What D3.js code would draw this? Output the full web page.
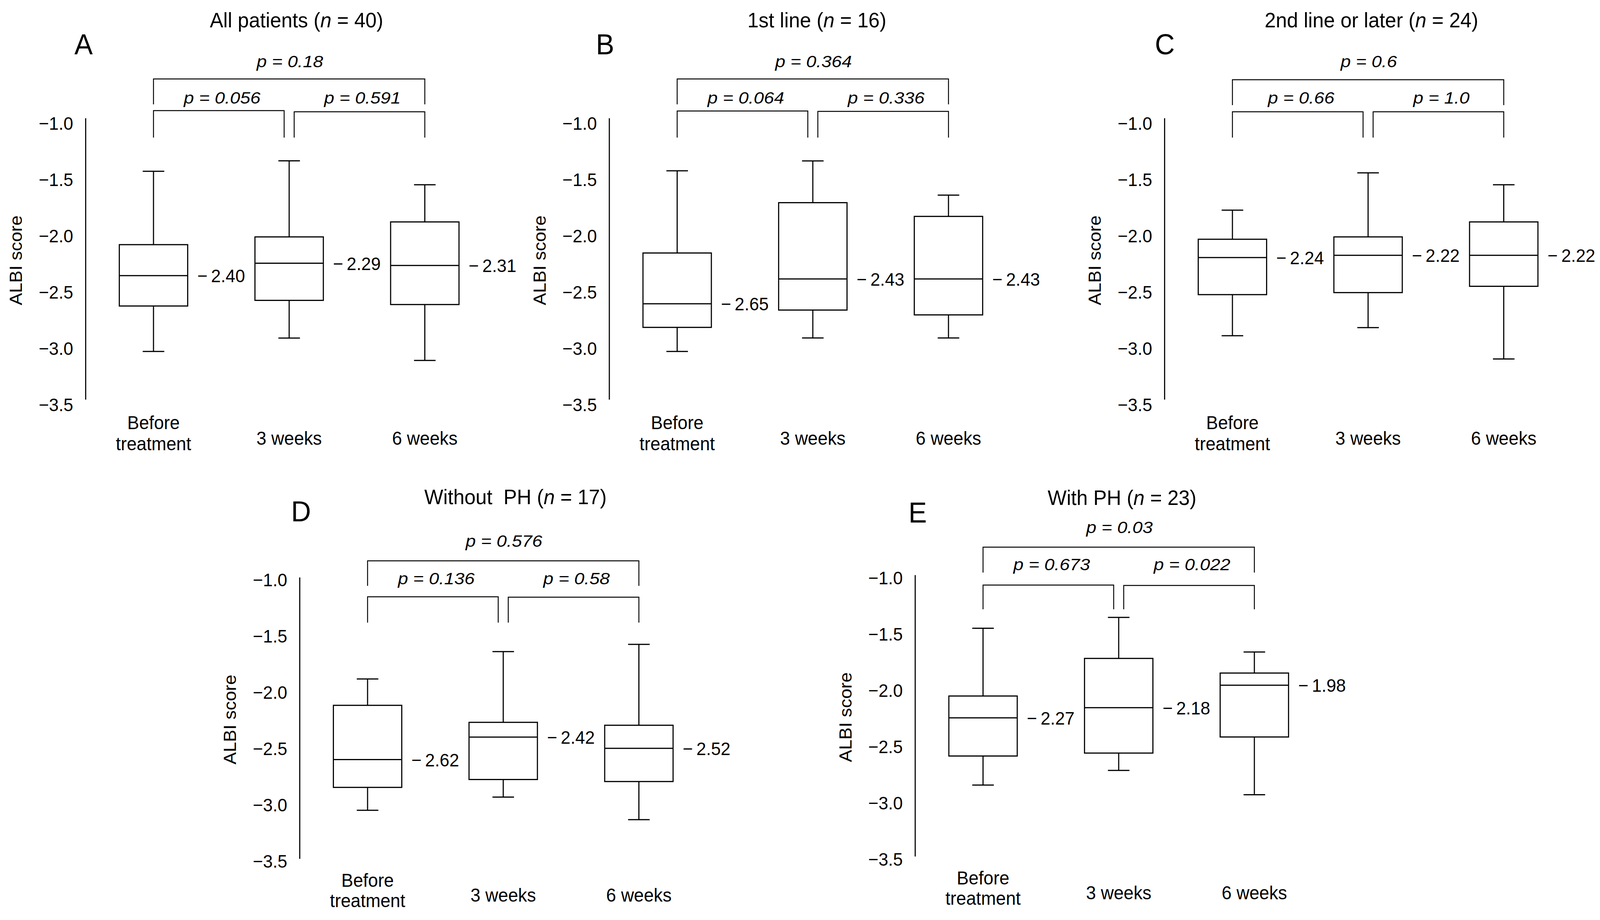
<!DOCTYPE html>
<html>
<head>
<meta charset="utf-8">
<script src="https://cdn.jsdelivr.net/npm/d3@7"></script>
<style>
  html, body { margin: 0; padding: 0; background: #fff; overflow: hidden; width: 100%; height: 100%; }
  svg { display: block; width: 100vw; height: 100vh; }
  text { font-family: "Liberation Sans", Arial, Helvetica, sans-serif; fill: #000; }
</style>
</head>
<body>
<svg id="chart" viewBox="0 0 4305 2354" preserveAspectRatio="none"></svg>
<script>
// ---------------- DATA ----------------
const categories = [["Before", "treatment"], ["3 weeks"], ["6 weeks"]];
const yTicks = [-1.0, -1.5, -2.0, -2.5, -3.0, -3.5];
const panelLetters = ["A", "B", "C", "D", "E"];
const panelNames = ["All patients", "1st line", "2nd line or later", "Without  PH", "With PH"];
const panelN = [40, 16, 24, 17, 23];

// box statistics per panel (rows: A..E, columns: Before, 3 weeks, 6 weeks)
const whiskerHigh = [
  [-1.473, -1.380, -1.593],
  [-1.469, -1.381, -1.685],
  [-1.819, -1.487, -1.593],
  [-1.904, -1.661, -1.596],
  [-1.474, -1.378, -1.685]
];
const upperQuartile = [
  [-2.125, -2.056, -1.923],
  [-2.199, -1.752, -1.874],
  [-2.077, -2.056, -1.923],
  [-2.138, -2.289, -2.315],
  [-2.076, -1.742, -1.872]
];
const medians = [
  [-2.40, -2.29, -2.31],
  [-2.65, -2.43, -2.43],
  [-2.24, -2.22, -2.22],
  [-2.62, -2.42, -2.52],
  [-2.27, -2.18, -1.98]
];
const lowerQuartile = [
  [-2.670, -2.620, -2.657],
  [-2.860, -2.706, -2.749],
  [-2.569, -2.551, -2.495],
  [-2.867, -2.797, -2.815],
  [-2.609, -2.583, -2.440]
];
const whiskerLow = [
  [-3.074, -2.955, -3.154],
  [-3.074, -2.954, -2.954],
  [-2.934, -2.862, -3.141],
  [-3.070, -2.953, -3.154],
  [-2.867, -2.737, -2.953]
];
// p values: Before vs 6 weeks, Before vs 3 weeks, 3 weeks vs 6 weeks
const pOverall = ["0.18", "0.364", "0.6", "0.576", "0.03"];
const pFirst   = ["0.056", "0.064", "0.66", "0.136", "0.673"];
const pSecond  = ["0.591", "0.336", "1.0", "0.58", "0.022"];

// ---------------- LAYOUT ----------------
const AXIS_LEN = 720;
const layout = [
  { axisX: 230,  axisTop: 302,  titleDx: 568, titleY: 70,   letterDx: -5,  letterY: 139,  tickOff: 12, cat: [76, 130, 116],
    br: { pTop: -130, top: -100, topLeg: -35, pLow: -37.5, lowL: -19, lowR: -16, lowLeg: 50 } },
  { axisX: 1639, axisTop: 302,  titleDx: 559, titleY: 70,   letterDx: -11, letterY: 139,  tickOff: 12, cat: [76, 130, 116],
    br: { pTop: -130, top: -100, topLeg: -35, pLow: -37.5, lowL: -18, lowR: -17, lowLeg: 50 } },
  { axisX: 3133, axisTop: 302,  titleDx: 557, titleY: 70,   letterDx: 1,   letterY: 139,  tickOff: 12, cat: [76, 130, 116],
    br: { pTop: -130, top: -98,  topLeg: -33, pLow: -37.5, lowL: -16, lowR: -16, lowLeg: 50 } },
  { axisX: 806,  axisTop: 1477, titleDx: 581, titleY: 1290, letterDx: 4,   letterY: 1334, tickOff: 5,  cat: [72, 124, 110],
    br: { pTop: -78,  top: -42,  topLeg: 22,  pLow: 18,    lowL: 50,  lowR: 51,  lowLeg: 116 } },
  { axisX: 2462, axisTop: 1471, titleDx: 557, titleY: 1292, letterDx: 7,   letterY: 1337, tickOff: 6,  cat: [72, 124, 110],
    br: { pTop: -107, top: -71,  topLeg: -6,  pLow: -12,   lowL: 26,  lowR: 27,  lowLeg: 88 } }
];
const BOX_W = 184, CAP_W = 58, FIRST_C = 183, STEP = 365;

const svg = d3.select("#chart");
const fmt2 = d3.format(".2f"), fmt1 = d3.format(".1f");
const minus = "\u2212";

panelLetters.forEach((letter, pi) => {
  const L = layout[pi];
  const g = svg.append("g").attr("class", "panel-" + letter);

  const y = d3.scaleLinear().domain([-1, -3.5]).range([L.axisTop, L.axisTop + AXIS_LEN]);
  const x = d3.scalePoint().domain([0, 1, 2]).range([L.axisX + FIRST_C, L.axisX + FIRST_C + 2 * STEP]);

  // y axis
  const axis = d3.axisLeft(y).tickValues(yTicks).tickSize(0).tickSizeOuter(0).tickPadding(33)
    .tickFormat(d => minus + fmt1(-d));
  const ag = g.append("g").attr("transform", `translate(${L.axisX},0)`).call(axis);
  ag.attr("font-family", null).attr("font-size", null);
  ag.select(".domain").attr("stroke", "#000").attr("stroke-width", 3);
  ag.selectAll(".tick text").attr("dy", null).attr("y", L.tickOff + 17)
    .style("font-size", "47px").attr("fill", "#000");

  // y title
  g.append("text")
    .attr("transform", `translate(${L.axisX - 171},${L.axisTop + AXIS_LEN / 2 + 4}) rotate(-90)`)
    .attr("text-anchor", "middle").style("font-size", "47px").text("ALBI score");

  // panel title
  const t = g.append("text").attr("x", L.axisX + L.titleDx).attr("y", L.titleY)
    .attr("text-anchor", "middle").style("font-size", "54px").style("white-space", "pre");
  t.append("tspan").text(panelNames[pi] + " (");
  t.append("tspan").style("font-style", "italic").text("n");
  t.append("tspan").text(" = " + panelN[pi] + ")");

  // panel letter
  g.append("text").attr("x", L.axisX + L.letterDx).attr("y", L.letterY)
    .attr("text-anchor", "middle").style("font-size", "74px").text(letter);

  // boxes
  const idx = [0, 1, 2];
  const boxes = g.selectAll("g.box").data(idx).join("g").attr("class", "box");
  boxes.append("line")
    .attr("x1", i => x(i)).attr("x2", i => x(i))
    .attr("y1", i => y(upperQuartile[pi][i])).attr("y2", i => y(whiskerHigh[pi][i]))
    .attr("stroke", "#000").attr("stroke-width", 3);
  boxes.append("line")
    .attr("x1", i => x(i)).attr("x2", i => x(i))
    .attr("y1", i => y(lowerQuartile[pi][i])).attr("y2", i => y(whiskerLow[pi][i]))
    .attr("stroke", "#000").attr("stroke-width", 3);
  boxes.append("line")
    .attr("x1", i => x(i) - CAP_W / 2).attr("x2", i => x(i) + CAP_W / 2)
    .attr("y1", i => y(whiskerHigh[pi][i])).attr("y2", i => y(whiskerHigh[pi][i]))
    .attr("stroke", "#000").attr("stroke-width", 3);
  boxes.append("line")
    .attr("x1", i => x(i) - CAP_W / 2).attr("x2", i => x(i) + CAP_W / 2)
    .attr("y1", i => y(whiskerLow[pi][i])).attr("y2", i => y(whiskerLow[pi][i]))
    .attr("stroke", "#000").attr("stroke-width", 3);
  boxes.append("rect")
    .attr("x", i => x(i) - BOX_W / 2).attr("width", BOX_W)
    .attr("y", i => y(upperQuartile[pi][i]))
    .attr("height", i => y(lowerQuartile[pi][i]) - y(upperQuartile[pi][i]))
    .attr("fill", "#fff").attr("stroke", "#000").attr("stroke-width", 3);
  boxes.append("line")
    .attr("x1", i => x(i) - BOX_W / 2).attr("x2", i => x(i) + BOX_W / 2)
    .attr("y1", i => y(medians[pi][i])).attr("y2", i => y(medians[pi][i]))
    .attr("stroke", "#000").attr("stroke-width", 3);
  boxes.append("text")
    .attr("x", i => x(i) + BOX_W / 2 + 26).attr("y", i => y(medians[pi][i]) + 17)
    .style("font-size", "47px").style("white-space", "pre")
    .text(i => minus + "\u2009" + fmt2(-medians[pi][i]));

  // category labels
  const axisBottom = L.axisTop + AXIS_LEN;
  idx.forEach(i => {
    const lines = categories[i];
    if (lines.length === 2) {
      g.append("text").attr("x", x(i)).attr("y", axisBottom + L.cat[0]).attr("text-anchor", "middle")
        .style("font-size", "48px").text(lines[0]);
      g.append("text").attr("x", x(i)).attr("y", axisBottom + L.cat[1]).attr("text-anchor", "middle")
        .style("font-size", "48px").text(lines[1]);
    } else {
      g.append("text").attr("x", x(i)).attr("y", axisBottom + L.cat[2]).attr("text-anchor", "middle")
        .style("font-size", "48px").text(lines[0]);
    }
  });

  // significance brackets
  const B = L.br, top = L.axisTop;
  const c0 = x(0), c1 = x(1), c2 = x(2), gap = 13.5;
  const bracket = (xa, xb, yh, yl) => `M${xa},${yl}V${yh}H${xb}V${yl}`;
  const brG = g.append("g").attr("fill", "none").attr("stroke", "#000").attr("stroke-width", 2.5);
  brG.append("path").attr("d", bracket(c0, c2, top + B.top, top + B.topLeg));
  brG.append("path").attr("d", bracket(c0, c1 - gap, top + B.lowL, top + B.lowLeg));
  brG.append("path").attr("d", bracket(c1 + gap, c2, top + B.lowR, top + B.lowLeg));

  // p labels: italic, horizontally widened as in the reference
  const pText = (xx, yy, val) => g.append("g")
    .attr("transform", `translate(${xx},${yy}) scale(1.17,1)`)
    .append("text").attr("text-anchor", "middle")
    .style("font-size", "42px").style("font-style", "italic").style("white-space", "pre")
    .text("p = " + val);
  pText((c0 + c2) / 2 + 2, top + B.pTop, pOverall[pi]);
  pText((c0 + c1 - gap) / 2 + 9, top + B.pLow, pFirst[pi]);
  pText((c1 + gap + c2) / 2 + 8, top + B.pLow, pSecond[pi]);
});
</script>
</body>
</html>
